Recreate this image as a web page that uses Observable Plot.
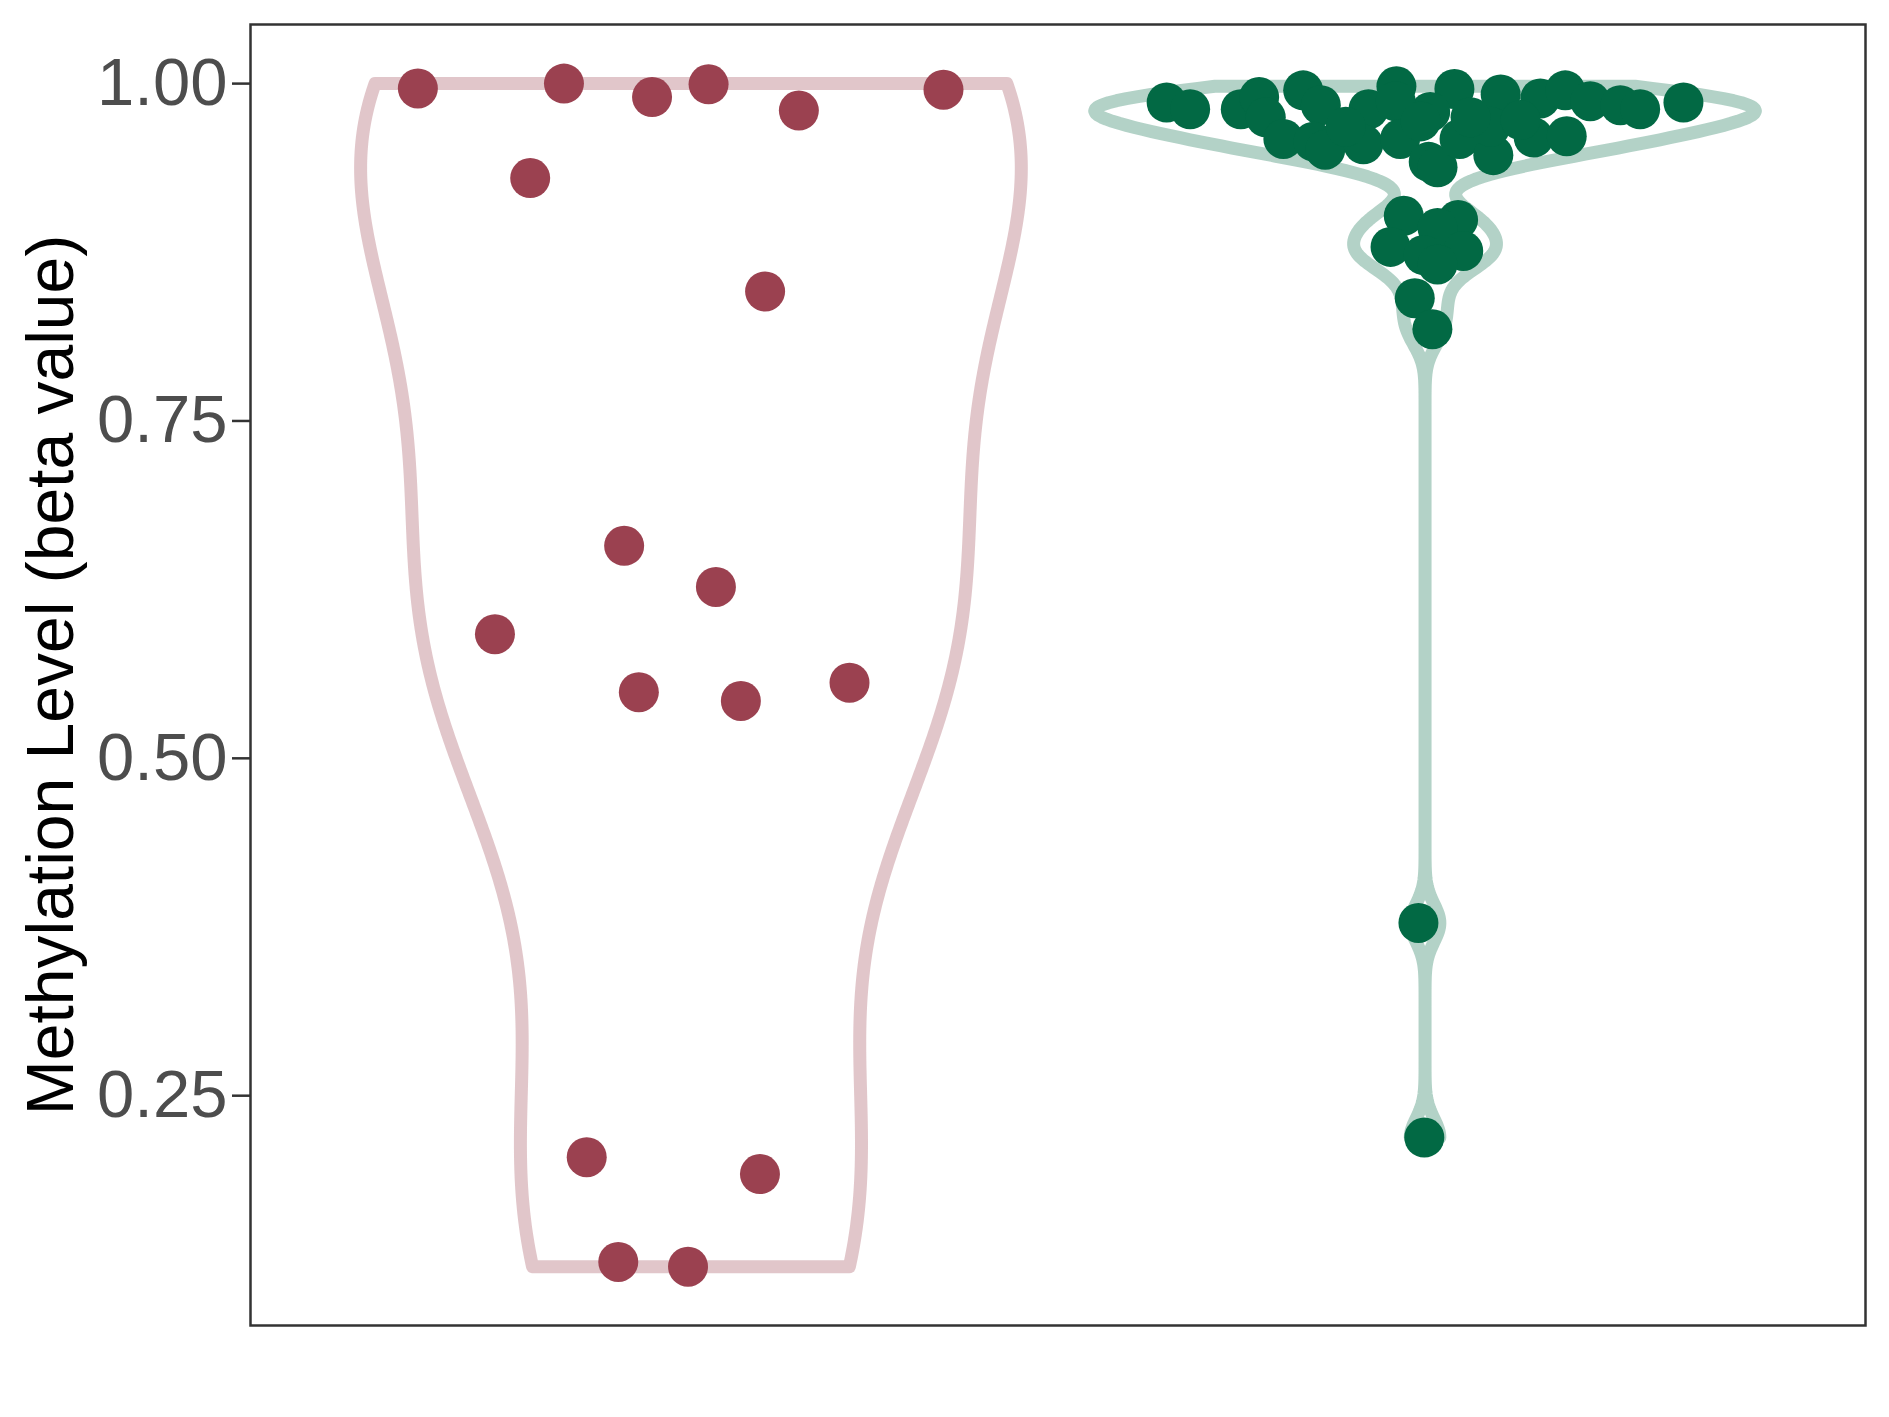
<!DOCTYPE html>
<html>
<head>
<meta charset="utf-8">
<script src="https://cdn.jsdelivr.net/npm/d3@7"></script>
<script src="https://cdn.jsdelivr.net/npm/@observablehq/plot@0.6"></script>
<style>
  html, body { margin: 0; padding: 0; background: #ffffff; }
  #chart { width: 1889px; height: 1417px; }
</style>
</head>
<body>
<div id="chart"></div>
<script>
// ---- data ----
const groupCenters = [1, 2];
const groupColors = ["#9B4150", "#026944"];

const redValues = [0.9964, 1.000, 0.990, 0.9995, 0.980, 0.9955, 0.930, 0.846, 0.6575,
  0.627, 0.592, 0.549, 0.5425, 0.556, 0.2044, 0.1919, 0.1268, 0.1233];
const redOffsets = [-0.372, -0.173, -0.053, 0.024, 0.147, 0.344, -0.219, 0.101, -0.091,
  0.034, -0.267, -0.071, 0.068, 0.216, -0.142, 0.094, -0.099, -0.004];

const greenValues = [0.986, 0.981, 0.981, 0.990, 0.995, 0.984, 0.981, 0.998, 0.996, 0.992,
  0.989, 0.995, 0.987, 0.984, 0.981, 0.986, 0.979, 0.987, 0.975, 0.959,
  0.957, 0.951, 0.955, 0.959, 0.942, 0.938, 0.959, 0.947, 0.960, 0.961,
  0.968, 0.968, 0.972, 0.975, 0.973,
  0.902, 0.899, 0.893, 0.879, 0.876, 0.873, 0.866, 0.841, 0.818, 0.378, 0.219];
const greenOffsets = [-0.352, -0.320, -0.251, -0.226, -0.166, -0.142, -0.077, -0.039, 0.040, 0.103,
  0.157, 0.191, 0.225, 0.266, 0.293, 0.352, 0.007, -0.040, -0.217, -0.193,
  -0.152, -0.136, -0.084, -0.034, 0.005, 0.017, 0.047, 0.093, 0.148, 0.193,
  0.089, -0.108, -0.006, 0.062, 0.130,
  -0.029, 0.045, 0.017, -0.047, 0.052, -0.002, 0.017, -0.014, 0.010, -0.009, -0.001];

const yDomain = [0.0797, 1.0438];
const xDomain = [0.4, 2.6];
const yTicks = [0.25, 0.50, 0.75, 1.00];
const yTitle = "Methylation Level (beta value)";

// ---- violin (gaussian KDE, bw.nrd0, trimmed, scaled to width) ----
function nrd0(v) {
  const s = d3.deviation(v);
  const sorted = [...v].sort(d3.ascending);
  const iqr = d3.quantileSorted(sorted, 0.75) - d3.quantileSorted(sorted, 0.25);
  let lo = Math.min(s, iqr / 1.34);
  if (!(lo > 0)) lo = s || Math.abs(sorted[0]) || 1;
  return 0.9 * lo * Math.pow(v.length, -0.2);
}
function violinPath(values, center, halfWidth, group) {
  const bw = nrd0(values);
  const [lo, hi] = d3.extent(values);
  const n = 512;
  const ys = d3.range(n).map(i => lo + (hi - lo) * i / (n - 1));
  const dens = ys.map(y => d3.sum(values, x => Math.exp(-0.5 * ((y - x) / bw) ** 2)));
  const m = d3.max(dens);
  const left = ys.map((y, i) => ({x: center - halfWidth * dens[i] / m, y, group}));
  const right = ys.map((y, i) => ({x: center + halfWidth * dens[i] / m, y, group})).reverse();
  return [...left, ...right, left[0]];
}

const redViolin = violinPath(redValues, groupCenters[0], 0.45, 0);
const greenViolin = violinPath(greenValues, groupCenters[1], 0.45, 1);
const redPoints = redValues.map((v, i) => ({x: groupCenters[0] + redOffsets[i], y: v}));
const greenPoints = greenValues.map((v, i) => ({x: groupCenters[1] + greenOffsets[i], y: v}));

const chart = Plot.plot({
  width: 1889,
  height: 1417,
  marginLeft: 250,
  marginRight: 24,
  marginTop: 24,
  marginBottom: 92,
  x: {domain: xDomain, axis: null},
  y: {domain: yDomain, axis: null},
  style: {fontFamily: "'Liberation Sans', Arial, Helvetica, sans-serif", background: "#ffffff"},
  marks: [
    Plot.line(redViolin, {x: "x", y: "y", stroke: groupColors[0], strokeOpacity: 0.3,
      strokeWidth: 13, strokeLinejoin: "round"}),
    Plot.line(greenViolin, {x: "x", y: "y", stroke: groupColors[1], strokeOpacity: 0.3,
      strokeWidth: 13, strokeLinejoin: "round"}),
    Plot.dot(redPoints, {x: "x", y: "y", r: 20, fill: groupColors[0]}),
    Plot.dot(greenPoints, {x: "x", y: "y", r: 20, fill: groupColors[1]}),
    Plot.frame({stroke: "#333333", strokeWidth: 2.5}),
    Plot.axisY({ticks: yTicks, tickFormat: d3.format(".2f"), tickSize: 18, tickPadding: 5,
      fontSize: 67, fill: "#4D4D4D", stroke: "#333333", strokeWidth: 2.5, label: null}),
    Plot.text([yTitle], {text: d => d, frameAnchor: "left", dx: -199, rotate: -90,
      textAnchor: "middle", fontSize: 66, fill: "#000000"})
  ]
});
document.getElementById("chart").appendChild(chart);
</script>
</body>
</html>
